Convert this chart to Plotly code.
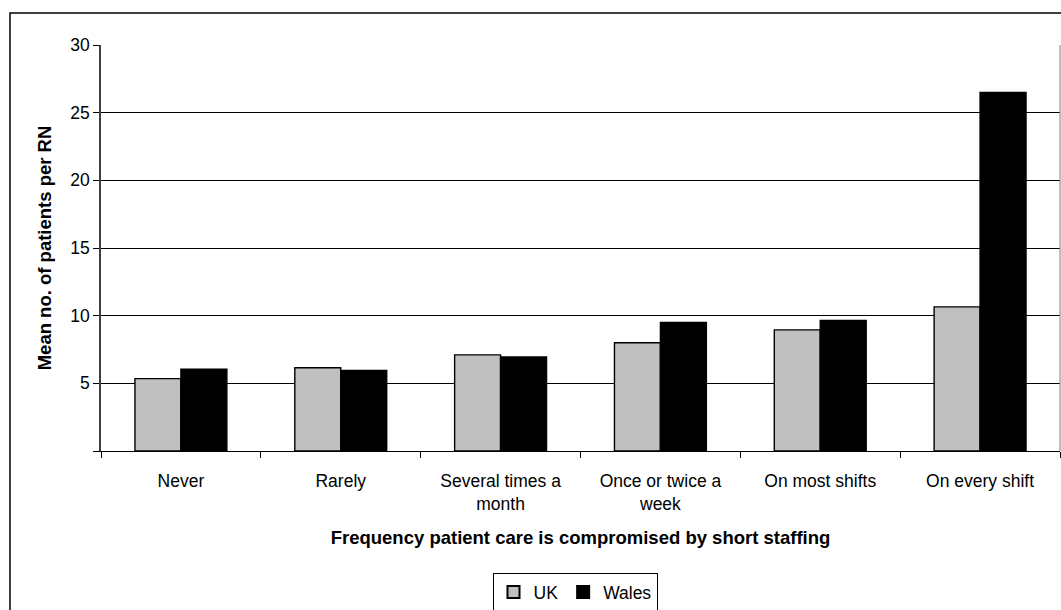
import plotly.graph_objects as go

categories = ["Never", "Rarely", "Several times a<br>month", "Once or twice a<br>week",
              "On most shifts", "On every shift"]
uk_values = [5.35, 6.15, 7.1, 8.0, 8.95, 10.65]
wales_values = [6.05, 5.95, 6.95, 9.5, 9.65, 26.5]
y_tick_vals = [0, 5, 10, 15, 20, 25, 30]
y_tick_text = ["", "5", "10", "15", "20", "25", "30"]

FONT = "Liberation Sans, Arial, sans-serif"

fig = go.Figure()
fig.add_trace(go.Bar(name="UK", x=categories, y=uk_values,
                     marker=dict(color="#c0c0c0", line=dict(color="black", width=1.4))))
fig.add_trace(go.Bar(name="Wales", x=categories, y=wales_values,
                     marker=dict(color="#000000", line=dict(color="black", width=1.4))))

W, H = 1061, 610
L, R, T, B = 101, 1, 45, 159
pw, ph = W - L - R, H - T - B

def px(x):
    return (x - L) / pw

def py(y):
    return (H - B - y) / ph

fig.update_layout(
    width=W, height=H,
    margin=dict(l=L, r=R, t=T, b=B, autoexpand=False),
    paper_bgcolor="white", plot_bgcolor="white",
    font=dict(family=FONT, size=17.5, color="black"),
    barmode="group", bargap=0.425, bargroupgap=0,
    showlegend=True,
    legend=dict(orientation="h", x=px(575), xanchor="center", y=py(573), yanchor="top",
                bordercolor="black", borderwidth=1, bgcolor="white",
                font=dict(size=17.5), itemwidth=30, tracegroupgap=0,
                itemsizing="constant"),
    xaxis=dict(
        showline=True, linecolor="black", linewidth=1,
        ticks="outside", ticklen=6, tickcolor="black", tickson="boundaries",
        tickfont=dict(size=17.5), ticklabelstandoff=14,
        title=dict(text="<b>Frequency patient care is compromised by short staffing</b>",
                   font=dict(size=18.5), standoff=18),
        automargin=False,
    ),
    yaxis=dict(
        range=[0, 30], tickvals=y_tick_vals, ticktext=y_tick_text,
        showline=True, linecolor="#404040", linewidth=1.5,
        ticks="outside", ticklen=6, tickcolor="black",
        showgrid=True, gridcolor="black", gridwidth=1,
        tickfont=dict(size=17.5),
        title=dict(text="<b>Mean no. of patients per RN</b>", font=dict(size=18.5), standoff=14),
        automargin=False, zeroline=False,
    ),
    shapes=[
        dict(type="rect", xref="paper", yref="paper",
             x0=px(10), x1=px(1070), y0=py(620), y1=py(13),
             line=dict(color="black", width=1.5), fillcolor="rgba(0,0,0,0)", layer="below"),
        dict(type="line", xref="paper", yref="paper",
             x0=1, x1=1, y0=0, y1=1, line=dict(color="#808080", width=1)),
    ],
)

fig.write_html("out.html", config={"displayModeBar": False},
               post_script="document.body.style.margin='0';document.body.style.overflow='hidden';")
